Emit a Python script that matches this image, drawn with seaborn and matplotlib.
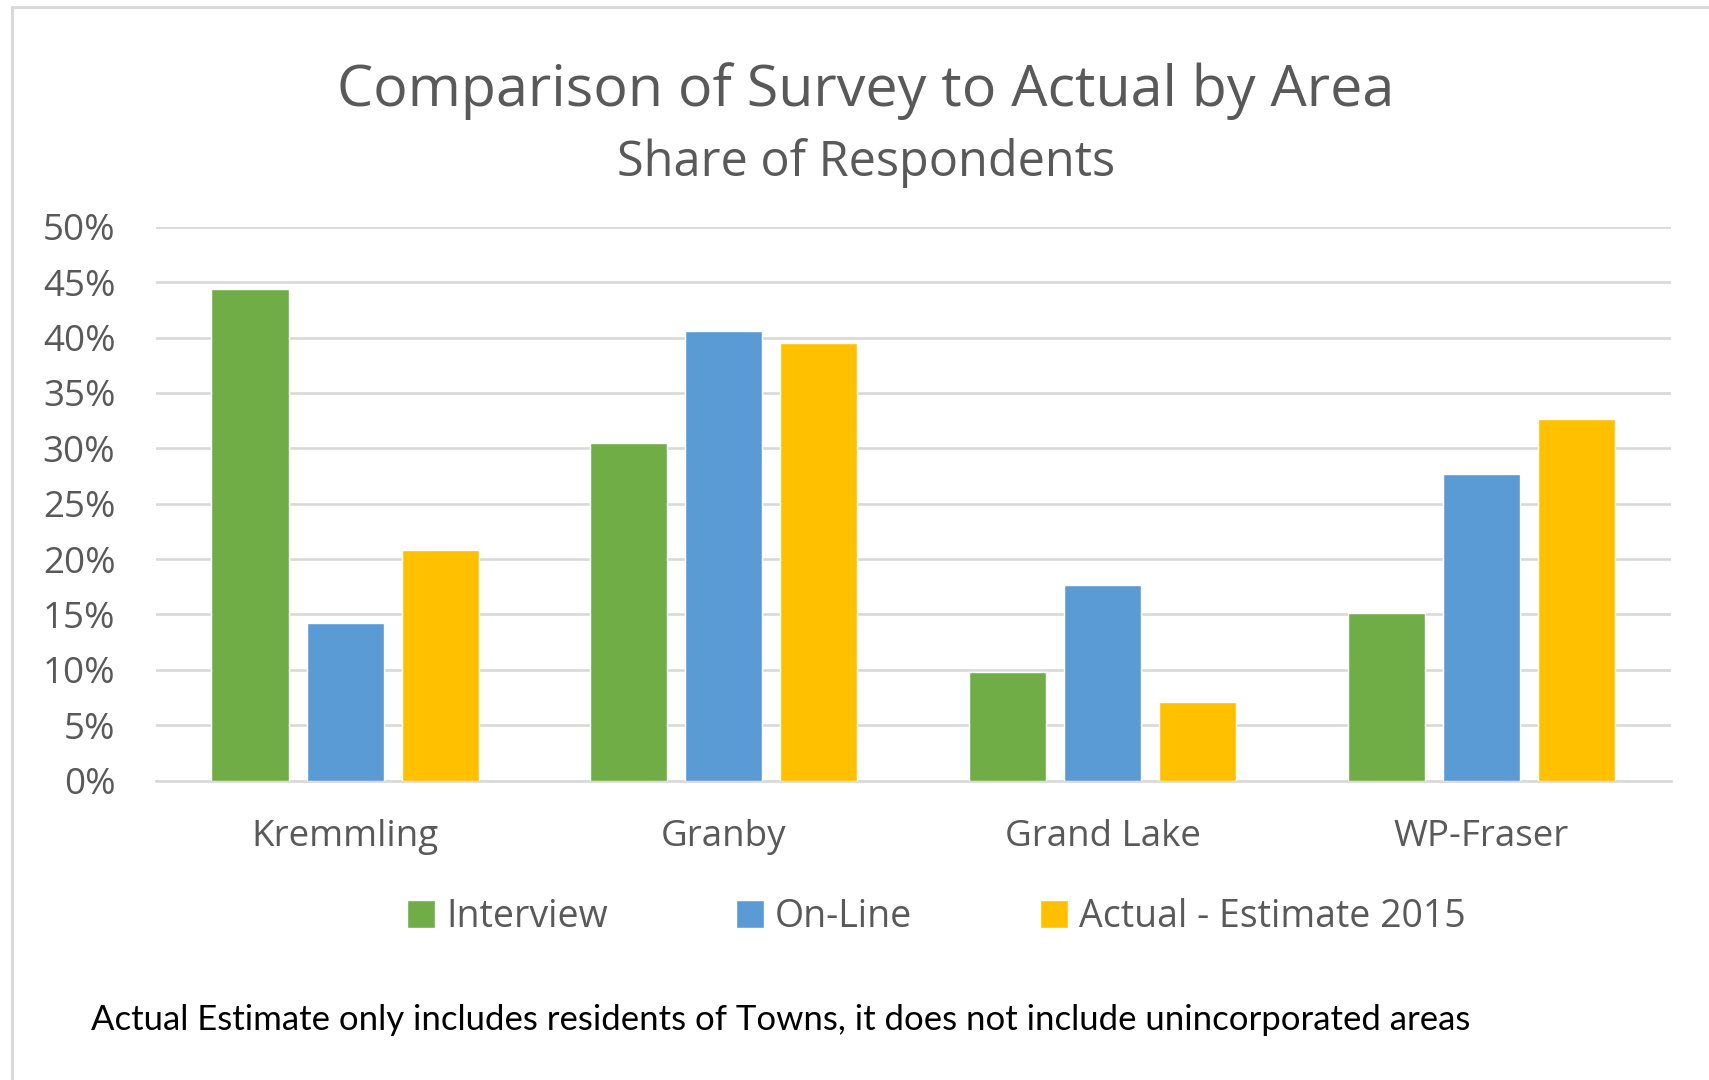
import numpy as np
import pandas as pd
import seaborn as sns
import matplotlib.pyplot as plt
from matplotlib.ticker import PercentFormatter, MultipleLocator

areas = ["Kremmling", "Granby", "Grand Lake", "WP-Fraser"]
series = ["Interview", "On-Line", "Actual - Estimate 2015"]
interview = [0.444, 0.305, 0.098, 0.151]
online = [0.142, 0.406, 0.177, 0.277]
actual = [0.208, 0.395, 0.071, 0.326]
colors = ["#70AD47", "#5B9BD5", "#FFC000"]

df = pd.DataFrame({
    "area": areas * 3,
    "series": np.repeat(series, len(areas)),
    "share": interview + online + actual,
})

sns.set_style("white")
plt.rcParams["font.family"] = ["Open Sans", "DejaVu Sans"]
txt = "#595959"
grid = "#D9D9D9"

fig = plt.figure(figsize=(17.09, 10.8), dpi=100)
ax = fig.add_axes([0.0911, 0.2773, 0.8865, 0.5127])

sns.barplot(data=df, x="area", y="share", hue="series", order=areas,
            hue_order=series, palette=colors, width=0.753, gap=0.19,
            saturation=1, ax=ax, zorder=3)

ax.set_ylim(0, 0.5)
ax.yaxis.set_major_locator(MultipleLocator(0.05))
ax.yaxis.set_major_formatter(PercentFormatter(1.0, decimals=0))
ax.grid(axis="y", color=grid, linewidth=1.9, zorder=0)
ax.set_axisbelow(True)
for s in ["left", "right", "top"]:
    ax.spines[s].set_visible(False)
ax.spines["bottom"].set_color(grid)
ax.spines["bottom"].set_linewidth(1.9)
ax.tick_params(axis="y", length=0, pad=29, labelsize=26.5, labelcolor=txt)
ax.tick_params(axis="x", length=0, pad=28, labelsize=26.5, labelcolor=txt)
ax.set_xlabel("")
ax.set_ylabel("")

sns.move_legend(ax, "center", bbox_to_anchor=(0.548, 0.151), bbox_transform=fig.transFigure,
                ncol=3, frameon=False, title=None, fontsize=27,
                handlelength=0.75, handleheight=0.75, handletextpad=0.3,
                columnspacing=3.4)
for t in ax.get_legend().get_texts():
    t.set_color(txt)

fig.text(0.5067, 0.902, "Comparison of Survey to Actual by Area", ha="center",
         va="baseline", fontsize=41.3, color=txt)
fig.text(0.5067, 0.837, "Share of Respondents", ha="center", va="baseline",
         fontsize=35, color=txt)
fig.text(0.053, 0.046, "Actual Estimate only includes residents of Towns, it does not include unincorporated areas",
         ha="left", va="baseline", fontsize=25, color="black", family=["Lato", "DejaVu Sans"])

# outer chart frame (runs off the right and bottom edges)
fig.add_artist(plt.Line2D([12 / 1709, 12 / 1709], [0, 1 - 7 / 1080], transform=fig.transFigure,
                          color=grid, linewidth=2.2))
fig.add_artist(plt.Line2D([12 / 1709, 1], [1 - 7 / 1080, 1 - 7 / 1080], transform=fig.transFigure,
                          color=grid, linewidth=2.2))

fig.savefig("out.png", dpi=100)
